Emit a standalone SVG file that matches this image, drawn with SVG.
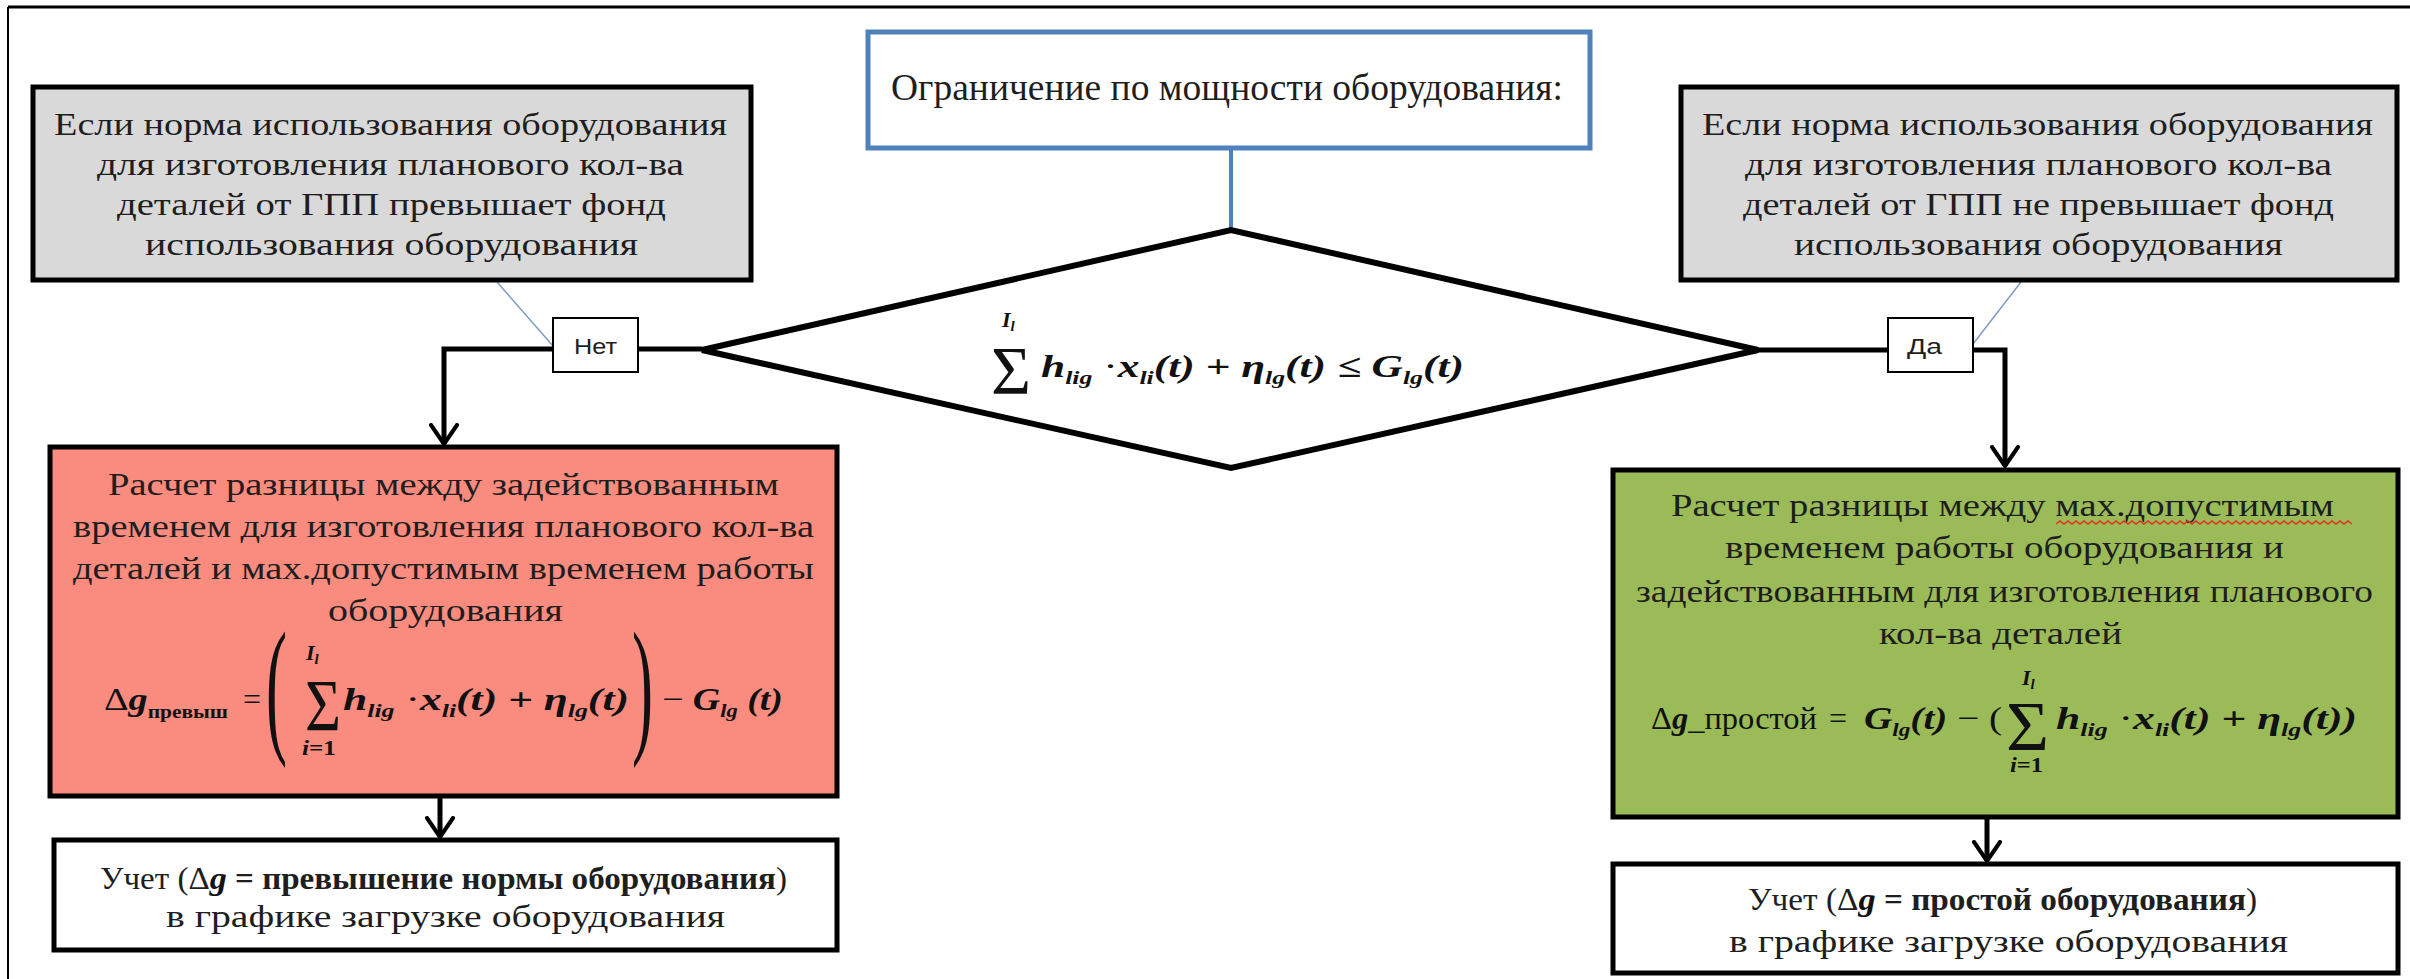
<svg xmlns="http://www.w3.org/2000/svg" width="2410" height="979" viewBox="0 0 2410 979">
<style>
.bg{fill:#fff}
.frame{stroke:#000;fill:none}
.box{stroke:#000;stroke-width:5}
.grey{fill:#d9d9d9}
.red{fill:#f98b7f}
.green{fill:#9bbb59}
.white{fill:#fff}
.lbl{fill:#fff;stroke:#000;stroke-width:2}
.t{font-family:"Liberation Serif","Times New Roman",serif;font-size:31px;fill:#1e1e1e}
.s{font-family:"Liberation Sans",Arial,sans-serif;font-size:22px;fill:#1e1e1e}
.m{font-family:"Liberation Serif","Times New Roman",serif;font-style:italic;font-weight:bold;font-size:32px;fill:#111}
.r{font-style:normal;font-weight:normal}
.b{font-style:normal;font-weight:bold}
.sub{font-size:19px}
.con{stroke:#000;stroke-width:5;fill:none}
.thin{stroke:#7f9cc4;stroke-width:1.5;fill:none}
</style>
<defs>
<marker id="arr" viewBox="0 0 24 30" refX="21" refY="15" markerWidth="24" markerHeight="30" markerUnits="userSpaceOnUse" orient="auto">
<path d="M2,2 L21,15 L2,28" fill="none" stroke="#000" stroke-width="4" stroke-linecap="round" stroke-linejoin="round"/>
</marker>
</defs>
<rect class="bg" x="0" y="0" width="2410" height="979"/>
<path class="frame" d="M8,7 L2410,7" stroke-width="3"/>
<path class="frame" d="M8,7 L8,979" stroke-width="2"/>

<g id="connectors">
<path d="M1231,148 L1231,230" stroke="#4f81bd" stroke-width="4" fill="none"/>
<path class="con" d="M702,349 L638,349"/>
<path class="con" d="M553,349 L444,349 L444,444" marker-end="url(#arr)"/>
<path class="con" d="M1756,350 L1888,350"/>
<path class="con" d="M1973,350 L2005,350 L2005,466" marker-end="url(#arr)"/>
<path class="con" d="M440,798 L440,837" marker-end="url(#arr)"/>
<path class="con" d="M1987,819 L1987,861" marker-end="url(#arr)"/>
<path class="thin" d="M497,282 L553,346"/>
<path class="thin" d="M2021,282 L1973,344"/>
</g>

<g id="constraint">
<rect x="868" y="32" width="722" height="116" fill="#fff" stroke="#4f81bd" stroke-width="5"/>
<text class="t" x="891" y="100" style="font-size:38px" textLength="672" lengthAdjust="spacingAndGlyphs">Ограничение по мощности оборудования:</text>
</g>

<g id="decision">
<polygon points="702,350 1231,230 1758,350 1231,468" fill="#fff" stroke="#000" stroke-width="6" stroke-linejoin="miter"/>
<text class="m r" x="991" y="393" style="font-size:68px" textLength="40" lengthAdjust="spacingAndGlyphs">Σ</text>
<text class="m" x="1002" y="327" style="font-size:22px">I<tspan font-size="15" dy="4">l</tspan></text>
<text class="m" x="1041" y="377" textLength="423" lengthAdjust="spacingAndGlyphs">h<tspan class="sub" dy="7">lig</tspan><tspan dy="-7" class="r"> ·</tspan>x<tspan class="sub" dy="7">li</tspan><tspan dy="-7">(t) + η</tspan><tspan class="sub" dy="7">lg</tspan><tspan dy="-7">(t) ≤ G</tspan><tspan class="sub" dy="7">lg</tspan><tspan dy="-7">(t)</tspan></text>
</g>

<g id="cond-no">
<rect class="box grey" x="33" y="87" width="718" height="193"/>
<text class="t" x="54" y="135" textLength="673" lengthAdjust="spacingAndGlyphs">Если норма использования оборудования</text>
<text class="t" x="97" y="175" textLength="587" lengthAdjust="spacingAndGlyphs">для изготовления планового кол-ва</text>
<text class="t" x="117" y="215" textLength="549" lengthAdjust="spacingAndGlyphs">деталей от ГПП превышает фонд</text>
<text class="t" x="145" y="255" textLength="493" lengthAdjust="spacingAndGlyphs">использования оборудования</text>
</g>

<g id="cond-yes">
<rect class="box grey" x="1681" y="87" width="716" height="193"/>
<text class="t" x="1702" y="135" textLength="671" lengthAdjust="spacingAndGlyphs">Если норма использования оборудования</text>
<text class="t" x="1745" y="175" textLength="587" lengthAdjust="spacingAndGlyphs">для изготовления планового кол-ва</text>
<text class="t" x="1743" y="215" textLength="591" lengthAdjust="spacingAndGlyphs">деталей от ГПП не превышает фонд</text>
<text class="t" x="1794" y="255" textLength="489" lengthAdjust="spacingAndGlyphs">использования оборудования</text>
</g>

<g id="label-no">
<rect class="lbl" x="553" y="318" width="85" height="54"/>
<text class="s" x="574" y="354" textLength="43" lengthAdjust="spacingAndGlyphs">Нет</text>
</g>

<g id="label-yes">
<rect class="lbl" x="1888" y="318" width="85" height="54"/>
<text class="s" x="1907" y="354" textLength="35" lengthAdjust="spacingAndGlyphs">Да</text>
</g>

<g id="excess-calc">
<rect class="box red" x="50" y="447" width="787" height="349"/>
<text class="t" x="108" y="495" textLength="671" lengthAdjust="spacingAndGlyphs">Расчет разницы между задействованным</text>
<text class="t" x="73" y="537" textLength="741" lengthAdjust="spacingAndGlyphs">временем для изготовления планового кол-ва</text>
<text class="t" x="73" y="579" textLength="741" lengthAdjust="spacingAndGlyphs">деталей и мах.допустимым временем работы</text>
<text class="t" x="328" y="621" textLength="235" lengthAdjust="spacingAndGlyphs">оборудования</text>
<text class="m" x="104" y="710" textLength="124" lengthAdjust="spacingAndGlyphs"><tspan class="r">Δ</tspan>g<tspan class="b" font-size="18" dy="8">превыш</tspan></text>
<text class="m r" x="243" y="710">=</text>
<text class="m r" style="font-size:150px" transform="translate(266,736) scale(0.42,1)">(</text>
<text class="m r" x="305" y="731" style="font-size:74px" textLength="36" lengthAdjust="spacingAndGlyphs">Σ</text>
<text class="m" x="306" y="660" style="font-size:22px">I<tspan font-size="15" dy="4">l</tspan></text>
<text class="m" x="302" y="755" style="font-size:20px" textLength="34" lengthAdjust="spacingAndGlyphs">i<tspan class="b">=1</tspan></text>
<text class="m" x="343" y="710" textLength="286" lengthAdjust="spacingAndGlyphs">h<tspan class="sub" dy="7">lig</tspan><tspan dy="-7" class="r"> ·</tspan>x<tspan class="sub" dy="7">li</tspan><tspan dy="-7">(t) + η</tspan><tspan class="sub" dy="7">lg</tspan><tspan dy="-7">(t)</tspan></text>
<text class="m r" style="font-size:150px" transform="translate(632,736) scale(0.42,1)">)</text>
<text class="m" x="662" y="710" textLength="121" lengthAdjust="spacingAndGlyphs"><tspan class="r">− </tspan>G<tspan class="sub" dy="7">lg</tspan><tspan dy="-7"> (t)</tspan></text>
</g>

<g id="excess-record">
<rect class="box white" x="54" y="840" width="783" height="110"/>
<text class="t" x="100" y="889" textLength="687" lengthAdjust="spacingAndGlyphs">Учет (Δ<tspan class="m" font-size="31">g</tspan><tspan font-weight="bold"> = превышение нормы оборудования</tspan>)</text>
<text class="t" x="166" y="927" textLength="559" lengthAdjust="spacingAndGlyphs">в графике загрузке оборудования</text>
</g>

<g id="idle-calc">
<rect class="box green" x="1613" y="470" width="785" height="347"/>
<text class="t" x="1671" y="516" textLength="663" lengthAdjust="spacingAndGlyphs">Расчет разницы между мах.допустимым</text>
<path d="M2056,524 l4,-3 l4,3 l4,-3 l4,3 l4,-3 l4,3 l4,-3 l4,3 l4,-3 l4,3 l4,-3 l4,3 l4,-3 l4,3 l4,-3 l4,3 l4,-3 l4,3 l4,-3 l4,3 l4,-3 l4,3 l4,-3 l4,3 l4,-3 l4,3 l4,-3 l4,3 l4,-3 l4,3 l4,-3 l4,3 l4,-3 l4,3 l4,-3 l4,3 l4,-3 l4,3 l4,-3 l4,3 l4,-3 l4,3 l4,-3 l4,3 l4,-3 l4,3 l4,-3 l4,3 l4,-3 l4,3 l4,-3 l4,3 l4,-3 l4,3 l4,-3 l4,3 l4,-3 l4,3 l4,-3 l4,3 l4,-3 l4,3 l4,-3 l4,3 l4,-3 l4,3 l4,-3 l4,3 l4,-3 l4,3 l4,-3 l4,3 l4,-3 l4,3" fill="none" stroke="#e03020" stroke-width="1.5"/>
<text class="t" x="1725" y="558" textLength="559" lengthAdjust="spacingAndGlyphs">временем работы оборудования и</text>
<text class="t" x="1636" y="602" textLength="737" lengthAdjust="spacingAndGlyphs">задействованным для изготовления планового</text>
<text class="t" x="1879" y="644" textLength="243" lengthAdjust="spacingAndGlyphs">кол-ва деталей</text>
<text class="m" x="1651" y="729" textLength="166" lengthAdjust="spacingAndGlyphs"><tspan class="r">Δ</tspan>g<tspan class="r">_простой</tspan></text>
<text class="m r" x="1829" y="729">=</text>
<text class="m" x="1864" y="729" textLength="138" lengthAdjust="spacingAndGlyphs">G<tspan class="sub" dy="7">lg</tspan><tspan dy="-7">(t)</tspan><tspan class="r"> − (</tspan></text>
<text class="m r" x="2006" y="750" style="font-size:70px" textLength="43" lengthAdjust="spacingAndGlyphs">Σ</text>
<text class="m" x="2022" y="685" style="font-size:22px">I<tspan font-size="15" dy="4">l</tspan></text>
<text class="m" x="2010" y="772" style="font-size:20px" textLength="33" lengthAdjust="spacingAndGlyphs">i<tspan class="b">=1</tspan></text>
<text class="m" x="2056" y="729" textLength="301" lengthAdjust="spacingAndGlyphs">h<tspan class="sub" dy="7">lig</tspan><tspan dy="-7" class="r"> ·</tspan>x<tspan class="sub" dy="7">li</tspan><tspan dy="-7">(t) + η</tspan><tspan class="sub" dy="7">lg</tspan><tspan dy="-7">(t))</tspan></text>
</g>

<g id="idle-record">
<rect class="box white" x="1613" y="864" width="785" height="109"/>
<text class="t" x="1748" y="910" textLength="509" lengthAdjust="spacingAndGlyphs">Учет (Δ<tspan class="m" font-size="31">g</tspan><tspan font-weight="bold"> = простой оборудования</tspan>)</text>
<text class="t" x="1729" y="952" textLength="559" lengthAdjust="spacingAndGlyphs">в графике загрузке оборудования</text>
</g>
</svg>
